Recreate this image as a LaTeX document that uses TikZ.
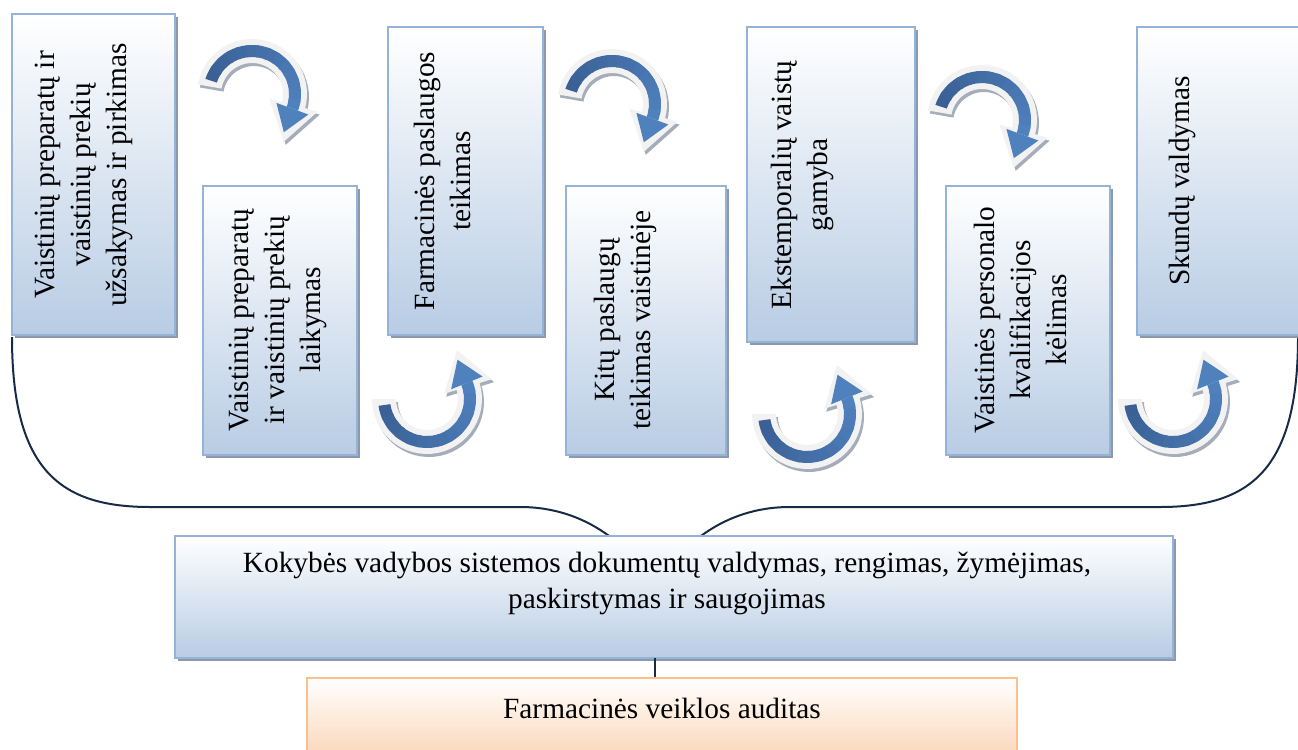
\documentclass[tikz,border=0pt]{standalone}
\usepackage{fontspec}
\setmainfont[Ligatures=NoCommon]{Liberation Serif}
\usetikzlibrary{shadows}

\definecolor{boxblue}{RGB}{184,204,228}
\definecolor{boxedge}{RGB}{149,179,215}
\definecolor{peach}{RGB}{251,212,180}
\definecolor{peachedge}{RGB}{250,192,144}
\definecolor{shadowgray}{RGB}{141,153,170}
\definecolor{bracenavy}{RGB}{23,43,73}
\definecolor{arrowdark}{RGB}{58,96,150}
\definecolor{arrowlight}{RGB}{79,129,189}
\definecolor{arrowrim}{RGB}{242,242,242}
\definecolor{arrowrimshade}{RGB}{165,173,186}

\tikzset{
  x=0.75pt, y=0.75pt,
  panel/.style 2 args={draw=boxedge, line width=2pt, top color=white, bottom color=boxblue,
    inner sep=0pt, minimum width=#1*0.75pt, minimum height=#2*0.75pt,
    drop shadow={shadow xshift=2.6pt, shadow yshift=-2.6pt, fill=shadowgray, opacity=1}},
  auditpanel/.style 2 args={draw=peachedge, line width=2pt, top color=white, bottom color=peach,
    inner sep=0pt, minimum width=#1*0.75pt, minimum height=#2*0.75pt},
  vtext/.style={rotate=90, anchor=north, align=center, inner sep=0pt,
    font=\fontsize{22}{27}\selectfont},
  htext/.style={align=center, inner sep=0pt, font=\fontsize{22}{27}\selectfont},
  bracket/.style={draw=bracenavy, line width=1.5pt},
}

% curved 3D arrow: centre x, centre y (downwards), tail angle, head angle, sense (+1 ccw, -1 cw)
\newcommand{\bendarrow}[5]{%
  \begin{scope}[shift={(#1,-#2)}]
    \pgfmathsetmacro\aA{#3}
    \pgfmathsetmacro\aB{#4}
    \pgfmathsetmacro\sg{#5}
    \pgfmathsetmacro\aT{\aA-\sg*8}
    \pgfmathsetmacro\aO{\aB-\sg*5}
    \pgfmathsetmacro\oTx{43*cos(\aO)+38*cos(\aO+\sg*90)}
    \pgfmathsetmacro\oTy{43*sin(\aO)+38*sin(\aO+\sg*90)}
    \pgfmathsetmacro\bTx{43*cos(\aB)+25*cos(\aB+\sg*90)}
    \pgfmathsetmacro\bTy{43*sin(\aB)+25*sin(\aB+\sg*90)}
    \foreach \dx/\dy/\col in {2/-3/arrowrimshade, 0/0/arrowrim} {
      \fill[\col, shift={(\dx,\dy)}]
        plot[domain=0:1, samples=30] ({\aT+(\aO-\aT)*\x}:55)
        -- (\aO:68) -- (\oTx,\oTy) -- (\aO:18)
        -- plot[domain=0:1, samples=30] ({\aO+(\aT-\aO)*\x}:31) -- cycle;
    }
    \foreach \i in {0,...,13} {
      \pgfmathsetmacro\uA{\aA+(\aB-\aA)*\i/14}
      \pgfmathsetmacro\uB{\aA+(\aB-\aA)*min(\i+1.3,14)/14}
      \pgfmathtruncatemacro\pc{100*\i/13}
      \fill[arrowlight!\pc!arrowdark]
        plot[domain=0:1, samples=4] ({\uA+(\uB-\uA)*\x}:49)
        -- plot[domain=0:1, samples=4] ({\uB+(\uA-\uB)*\x}:37) -- cycle;
    }
    \fill[arrowlight] (\aB:60) -- (\bTx,\bTy) -- (\aB:26) -- cycle;
  \end{scope}}

\begin{document}
\begin{tikzpicture}
\useasboundingbox (0,0) rectangle (1298,-749);

% bracket gathering the processes above the documentation box
\draw[bracket] (12,-337) .. controls (12,-470) and (60,-507) .. (150,-507)
  -- (520,-507) .. controls (588,-507) and (630,-548) .. (655,-585)
  .. controls (680,-548) and (722,-507) .. (790,-507)
  -- (1160,-507) .. controls (1250,-507) and (1298,-470) .. (1298,-337);

% process panels
\node[panel={163}{321}] (b1) at (93.5,-174.5) {};
\node[panel={154}{269}] (b2) at (280,-320.5) {};
\node[panel={155}{308}] (b3) at (465.5,-181) {};
\node[panel={160}{269}] (b4) at (646,-320.5) {};
\node[panel={168}{315}] (b5) at (831,-184.5) {};
\node[panel={164}{269}] (b6) at (1028,-320.5) {};
\node[panel={168}{308}] (b7) at (1221,-181) {};

\node[vtext] (t1) at (35,-175) {Vaistinių preparatų ir\\vaistinių prekių\\užsakymas ir pirkimas};
\node[vtext] (t2) at (229,-320) {Vaistinių preparatų\\ir vaistinių prekių\\laikymas};
\node[vtext] (t3) at (414,-181) {Farmacinės paslaugos\\teikimas};
\node[vtext] (t4) at (594,-320) {Kitų paslaugų\\teikimas vaistinėje};
\node[vtext] (t5) at (771,-185) {Ekstemporalių vaistų\\gamyba};
\node[vtext] (t6) at (974,-320) {Vaistinės personalo\\kvalifikacijos\\kėlimas};
\node[vtext] (t7) at (1169,-181) {Skundų valdymas};

% documentation and audit
\node[panel={998}{122}] (kv) at (674,-597) {};
\node[htext] (kvt) at (667,-583) {Kokybės vadybos sistemos dokumentų valdymas, rengimas, žymėjimas,\\paskirstymas ir saugojimas};
\node[auditpanel={710}{84}] (audit) at (662,-720) {};
\node[htext] (at) at (662,-708) {Farmacinės veiklos auditas};
\coordinate (link) at (655,-658);
\draw[draw=bracenavy, line width=2pt] (link) -- (link |- audit.north);

% bent arrows between the panels
\bendarrow{252}{94}{162}{-20}{-1}
\bendarrow{612}{104}{162}{-20}{-1}
\bendarrow{982}{120}{162}{-20}{-1}
\bendarrow{427}{399}{188}{382}{1}
\bendarrow{807}{414}{188}{382}{1}
\bendarrow{1173}{399}{188}{382}{1}
\end{tikzpicture}
\end{document}
